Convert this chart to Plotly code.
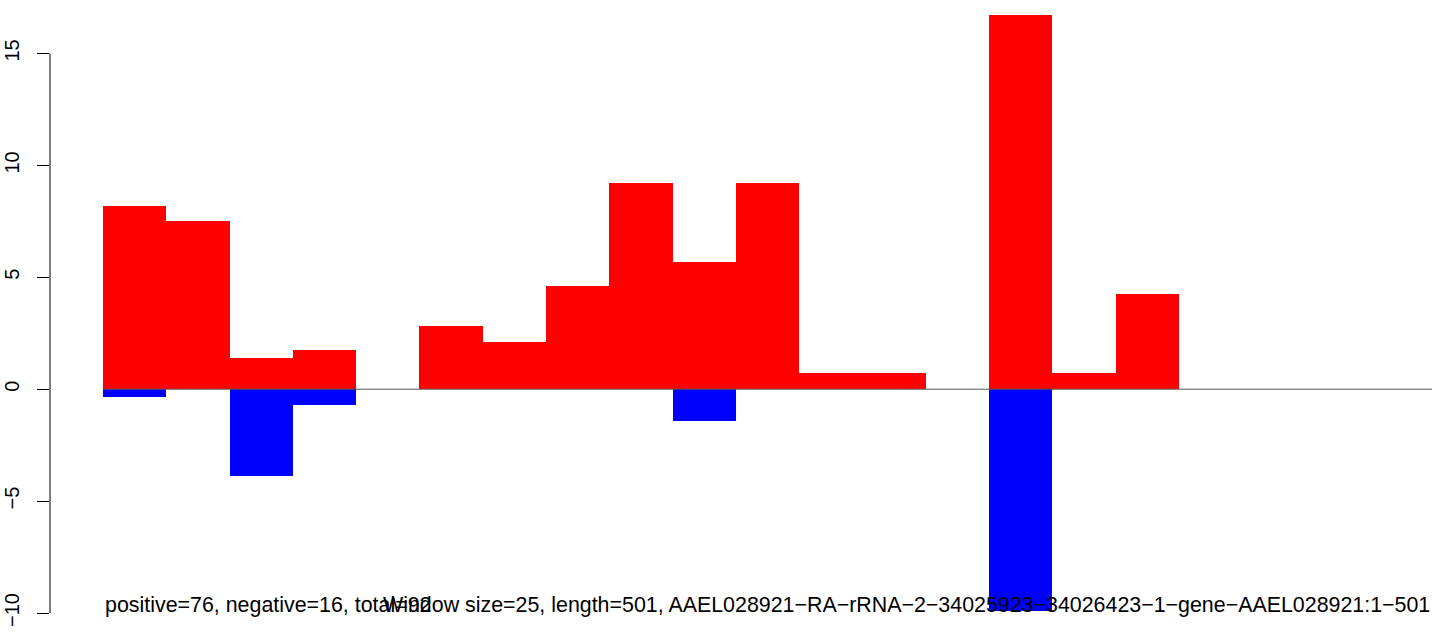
import plotly.graph_objects as go

windows = list(range(1, 22))
positive = [8.2, 7.5, 1.41, 1.77, 0, 2.83, 2.12, 4.6, 9.2, 5.68, 9.2, 0.707, 0.707, 0, 16.7, 0.707, 4.25, 0, 0, 0, 0]
negative = [-0.35, 0, -3.9, -0.707, 0, 0, 0, 0, 0, -1.41, 0, 0, 0, 0, -9.9, 0, 0, 0, 0, 0, 0]
ytick_vals = [-10, -5, 0, 5, 10, 15]
left_text = "positive=76, negative=16, total=92"
right_text = "Window size=25, length=501, AAEL028921\u2212RA\u2212rRNA\u22122\u221234025923\u221234026423\u22121\u2212gene\u2212AAEL028921:1\u2212501"

xs = [w - 0.5 for w in windows]
W, H = 1444, 634
left_px, right_px = 50, 1432
top_px, bottom_px = 15, 613.5
bar_start_px = 103
unit_px = (right_px - bar_start_px) / len(windows)
x0 = -(bar_start_px - left_px) / unit_px
FONT = "Liberation Sans, Arial"

fig = go.Figure()
fig.add_trace(go.Bar(x=xs, y=negative, width=1, marker=dict(color="#0000FF", line=dict(width=0)), showlegend=False))
fig.add_trace(go.Bar(x=xs, y=positive, width=1, marker=dict(color="#FF0000", line=dict(width=0)), showlegend=False))

fig.add_shape(type="line", xref="x", yref="y", x0=0, x1=len(windows), y0=0, y1=0,
              line=dict(color="#555555", width=1))
fig.add_shape(type="line", xref="paper", yref="y", x0=0, x1=0, y0=-10, y1=15,
              line=dict(color="black", width=1))

fig.add_annotation(x=0, y=-10, xref="x", yref="y", text=left_text, showarrow=False,
                   xanchor="left", yanchor="bottom", yshift=-6,
                   font=dict(family=FONT, size=21.4, color="black"))
fig.add_annotation(x=len(windows), y=-10, xref="x", yref="y", text=right_text, showarrow=False,
                   xanchor="right", yanchor="bottom", yshift=-6,
                   font=dict(family=FONT, size=21.4, color="black"))

fig.update_layout(
    width=W, height=H,
    margin=dict(l=left_px, r=W - right_px, t=top_px, b=H - bottom_px, pad=0, autoexpand=False),
    plot_bgcolor="white", paper_bgcolor="white",
    barmode="overlay", bargap=0,
    xaxis=dict(range=[x0, len(windows)], visible=False, showgrid=False, zeroline=False, automargin=False),
    yaxis=dict(range=[-10, 16.72], tickvals=ytick_vals, ticktext=[str(v).replace("-", "\u2212") for v in ytick_vals],
               ticks="outside", ticklen=12, tickwidth=1, tickcolor="black",
               tickangle=-90, showgrid=False, zeroline=False, showline=False,
               automargin=False, ticklabelstandoff=10,
               tickfont=dict(family=FONT, size=20, color="black")),
    font=dict(family=FONT),
)

fig.write_html("out.html", config={"displayModeBar": False},
               post_script="document.body.style.margin='0';document.body.style.overflow='hidden';")
